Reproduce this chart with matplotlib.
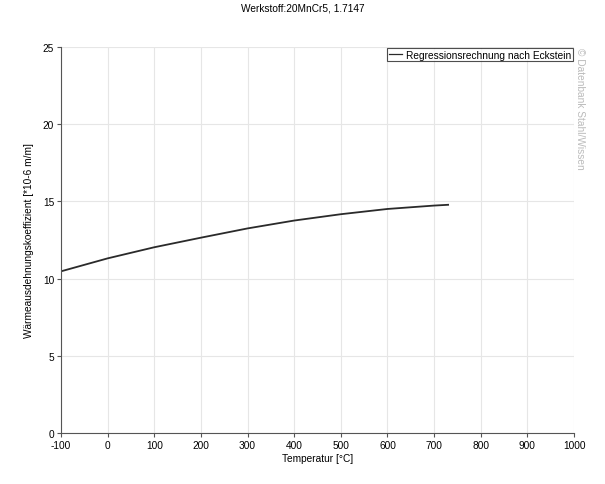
import matplotlib
matplotlib.use("Agg")
import matplotlib.pyplot as plt

plt.rcParams['font.family'] = ['Liberation Sans', 'DejaVu Sans']
plt.rcParams['axes.unicode_minus'] = False

# Temperatur [°C] und Wärmeausdehnungskoeffizient [1e-6 m/m]
temperatur = [-100, 0, 100, 200, 300, 400, 500, 600, 700, 730]
alpha = [10.47, 11.31, 12.03, 12.65, 13.25, 13.76, 14.17, 14.51, 14.73, 14.78]

x_ticks = list(range(-100, 1001, 100))
y_ticks = [0, 5, 10, 15, 20, 25]


def main():
    fig = plt.figure(figsize=(6.05, 4.85), dpi=100)
    ax = fig.add_axes([0.1008, 0.1052, 0.848, 0.7958])

    line, = ax.plot(temperatur, alpha, color='#2a2a2a', lw=1.3,
                    label='Regressionsrechnung nach Eckstein')

    ax.set_xlim(-100, 1000)
    ax.set_ylim(0, 25)
    ax.set_xticks(x_ticks)
    ax.set_yticks(y_ticks)
    ax.grid(True, color='#e6e6e6', lw=0.8)
    ax.set_axisbelow(True)
    for side in ('top', 'right'):
        ax.spines[side].set_visible(False)
    for side in ('left', 'bottom'):
        ax.spines[side].set_color('#555555')
    ax.tick_params(labelsize=7.3, length=3, color='#555555', pad=2)

    ax.set_xlabel('Temperatur [°C]', fontsize=7.3, labelpad=2)
    ax.set_ylabel('Wärmeausdehnungskoeffizient [*10-6 m/m]', fontsize=7.3, labelpad=6)
    fig.suptitle('Werkstoff:20MnCr5, 1.7147', fontsize=7.3, y=0.992)

    leg = ax.legend(loc='upper right', fontsize=7.3, fancybox=False,
                    handlelength=1.3, borderpad=0.15, borderaxespad=0.1,
                    handletextpad=0.4)
    leg.get_frame().set_edgecolor('#222222')
    leg.get_frame().set_linewidth(0.8)
    leg.get_lines()[0].set_linewidth(0.9)

    fig.text(0.958, 0.9, '© Datenbank Stahl/Wissen', rotation=-90,
             fontsize=7.3, color='#bbbbbb', va='top', ha='center')

    fig.savefig('out.png', dpi=100)


if __name__ == "__main__":
    main()
